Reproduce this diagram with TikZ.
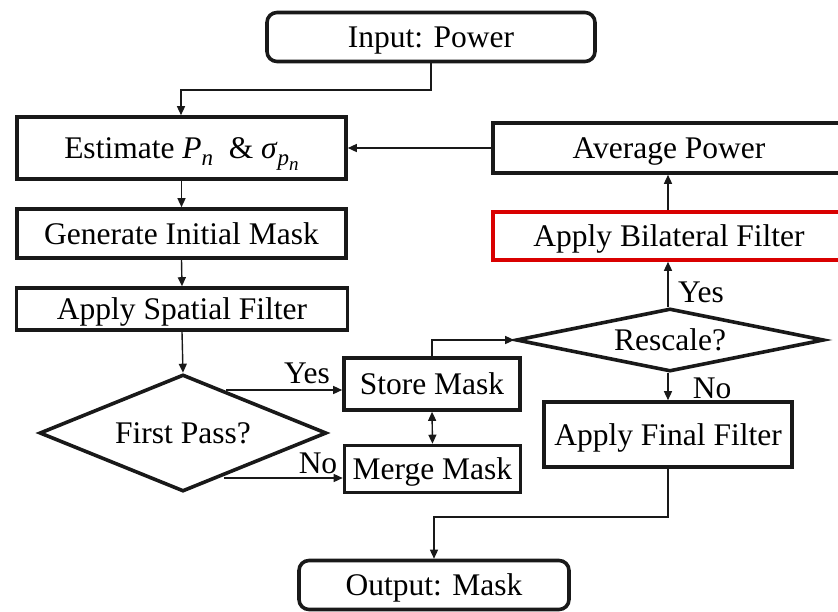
\documentclass[tikz,border=0pt]{standalone}
\usepackage{fontspec}
\setmainfont{Liberation Serif}
\usetikzlibrary{shapes.geometric,arrows.meta}
\newcommand{\subt}[1]{\raisebox{-7pt}{\fontsize{23}{23}\selectfont\textit{#1}}}
\newcommand{\subsubt}[2]{\raisebox{-7pt}{\fontsize{23}{23}\selectfont\textit{#1}\raisebox{-5pt}{\fontsize{19}{19}\selectfont\textit{#2}}}}
\begin{document}
\begin{tikzpicture}[x=1pt,y=-1pt,
  font=\fontsize{31.5}{34}\selectfont,
  every node/.style={text height=21pt, text depth=0pt},
  box/.style={draw=black!90, line width=3.6pt, rectangle, inner sep=0pt},
  term/.style={box, rounded corners=10pt},
  dec/.style={draw=black!90, line width=3.6pt, diamond, inner sep=0pt},
  lbl/.style={inner sep=0pt},
  conn/.style={line width=1.4pt, draw=black!90, -{Triangle[length=9pt,width=8pt]}},
  dconn/.style={line width=1.4pt, draw=black!90, {Triangle[length=9pt,width=8pt]}-{Triangle[length=9pt,width=8pt]}},
  plain/.style={line width=1.4pt, draw=black!90}]
\useasboundingbox (0,0) rectangle (838,611);
\node[term, minimum width=328pt, minimum height=49pt] (in) at (431,37) {Input: Power};
\node[box, minimum width=329pt, minimum height=62pt] (est) at (181.5,148) {Estimate \textit{P}\subt{n}\ \ \& \textit{σ}\subsubt{p}{n}};
\node[box, minimum width=329pt, minimum height=49pt] (gen) at (181.5,233.5) {Generate Initial Mask};
\node[box, minimum width=331pt, minimum height=42pt] (spa) at (182,309) {Apply Spatial Filter};
\node[dec, aspect=2.4, minimum width=287pt, minimum height=117pt] (fp) at (183,433) {First Pass?};
\node[box, minimum width=176pt, minimum height=52pt] (store) at (432,384) {Store Mask};
\node[box, minimum width=176pt, minimum height=47pt] (merge) at (432.5,469) {Merge Mask};
\node[dec, aspect=4.7, minimum width=308pt, minimum height=63pt] (rs) at (670,340) {Rescale?};
\node[box, minimum width=352pt, minimum height=50pt] (avg) at (669,148) {Average Power};
\node[box, draw=red!85!black, minimum width=352pt, minimum height=48pt] (bil) at (669,236) {Apply Bilateral Filter};
\node[box, minimum width=248pt, minimum height=65pt] (fin) at (668,434.5) {Apply Final Filter};
\node[term, minimum width=270pt, minimum height=49pt] (out) at (434,585) {Output: Mask};
\node[lbl] (yes1) at (307,373) {Yes};
\node[lbl] (no1) at (318,463) {No};
\node[lbl] (yes2) at (701,292) {Yes};
\node[lbl] (no2) at (712,388) {No};
\coordinate (c1) at (431,90);
\coordinate (c2) at (181,90);
\draw[conn] (in.south) -- (c1) -- (c2) -- (est.north -| c2);
\draw[conn] (est.south) -- (gen.north);
\draw[conn] (gen.south) -- (spa.north);
\draw[conn] (spa.south) -- (fp.north);
\coordinate (y1) at (226,390);
\draw[conn] (y1) -- (store.west |- y1);
\coordinate (n1) at (224,478);
\draw[conn] (n1) -- (merge.west |- n1);
\draw[dconn] (store.south) -- (merge.north);
\coordinate (c3) at (432,340);
\draw[conn] (store.north) -- (c3) -- (rs.west);
\coordinate (r1) at (668,340);
\draw[conn] (rs.north -| r1) -- (bil.south -| r1);
\draw[conn] (bil.north -| r1) -- (avg.south -| r1);
\draw[conn] (avg.west) -- (est.east);
\draw[conn] (rs.south -| r1) -- (fin.north -| r1);
\coordinate (c4) at (668,517);
\coordinate (c5) at (434,517);
\draw[conn] (fin.south -| c4) -- (c4) -- (c5) -- (out.north);
\end{tikzpicture}
\end{document}
